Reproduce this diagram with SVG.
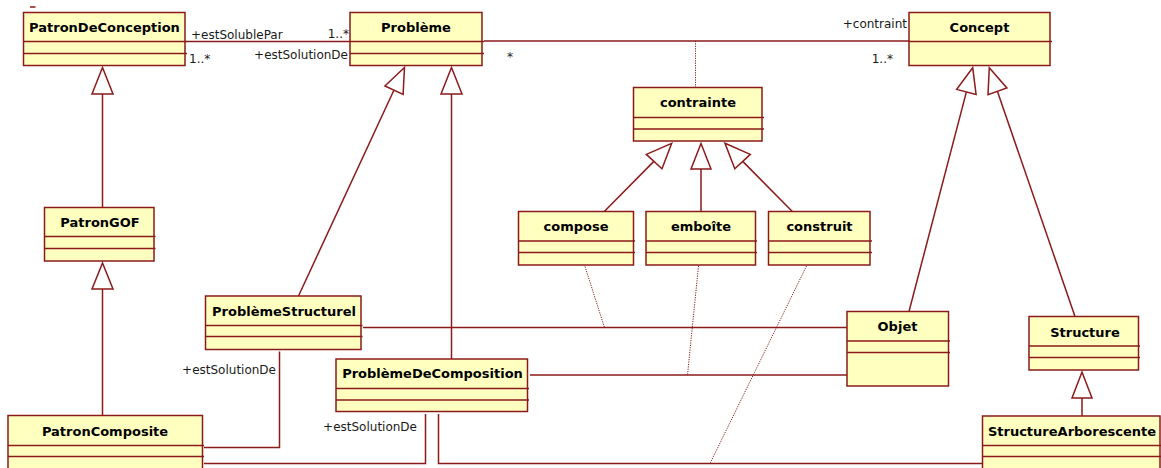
<svg xmlns="http://www.w3.org/2000/svg" width="1161" height="468" viewBox="0 0 1161 468">
<defs>
<style>
.box{fill:#FFFFC0;stroke:#8B1A1A;stroke-width:1.5}
.sep{stroke:#8B1A1A;stroke-width:1.5;fill:none}
.ttl{font-family:"DejaVu Sans",Verdana,sans-serif;font-weight:bold;font-size:13px;fill:#000;text-anchor:middle}
.lbl{font-family:"DejaVu Sans",Verdana,sans-serif;font-size:12px;fill:#1a1a1a}
.ln{stroke:#8B1A1A;stroke-width:1.5;fill:none}
.dot{stroke:#8B1A1A;stroke-width:1;fill:none;stroke-dasharray:1.2 1.2}
.tri{fill:#fff;stroke:#8B1A1A;stroke-width:1.5}
</style>
</defs>
<rect width="1161" height="468" fill="#fff"/>
<line x1="30" y1="7" x2="35.5" y2="7" class="sep"/>

<g id="connectors">
  <!-- associations -->
  <path class="ln" d="M186.5,41.5 H350"/>
  <path class="ln" d="M484,41 H909"/>
  <path class="ln" d="M363,327.5 H847"/>
  <path class="ln" d="M530,375 H847"/>
  <path class="ln" d="M204,447.5 H279.5 V351.5"/>
  <path class="ln" d="M204,463.5 H425.5 V414"/>
  <path class="ln" d="M438.5,414 V463.5 H982.5"/>
  <!-- association classes -->
  <path class="dot" d="M695.5,41 V87.5"/>
  <path class="dot" d="M585,266.5 L604.5,327.5"/>
  <path class="dot" d="M698.5,266 L687.5,375"/>
  <path class="dot" d="M806.5,266 L710,463.5"/>
  <!-- generalizations -->
  <path class="ln" d="M102.5,94 V207.5"/>
  <polygon class="tri" points="102.5,67.5 92,94 113,94"/>
  <path class="ln" d="M102.5,289 V415.5"/>
  <polygon class="tri" points="102.5,263 92,289 113,289"/>
  <path class="ln" d="M394,90 L298.5,296"/>
  <polygon class="tri" points="404.5,67.5 384.9,86 403.1,94.4"/>
  <path class="ln" d="M451.5,94 V359"/>
  <polygon class="tri" points="451.5,67.5 441,94 462,94"/>
  <path class="ln" d="M966.4,91.9 L909,311.5"/>
  <polygon class="tri" points="972.7,67.7 976.1,94.4 956.7,89.4"/>
  <path class="ln" d="M997.4,91.3 L1075,316.5"/>
  <polygon class="tri" points="989.3,67.7 1006.9,88 988,94.6"/>
  <path class="ln" d="M654.1,161.1 L604.3,211.5"/>
  <polygon class="tri" points="671.7,143.3 662,168.8 646.3,154.4"/>
  <path class="ln" d="M701,169 V211.5"/>
  <polygon class="tri" points="701,143.5 691,169 711,169"/>
  <path class="ln" d="M742.5,161.1 L792.3,211.5"/>
  <polygon class="tri" points="725,143.3 750.3,154.4 734.8,168.8"/>
  <path class="ln" d="M1082,398 V416"/>
  <polygon class="tri" points="1082,372 1072,398 1092,398"/>
  <!-- labels -->
  <text class="lbl" x="191" y="39">+estSolublePar</text>
  <text class="lbl" x="349" y="38" text-anchor="end">1..*</text>
  <text class="lbl" x="189" y="63">1..*</text>
  <text class="lbl" x="348" y="59" text-anchor="end">+estSolutionDe</text>
  <text class="lbl" x="507" y="61">*</text>
  <text class="lbl" x="907" y="28" text-anchor="end">+contraint</text>
  <text class="lbl" x="893" y="63" text-anchor="end">1..*</text>
  <text class="lbl" x="276" y="374" text-anchor="end">+estSolutionDe</text>
  <text class="lbl" x="417" y="430.5" text-anchor="end">+estSolutionDe</text>
</g>

<g id="PatronDeConception">
  <rect class="box" x="23.5" y="12.5" width="161.5" height="53"/>
  <path class="sep" d="M23.5,41.5 H187 M23.5,53.5 H187"/>
  <text class="ttl" x="104.5" y="31.5">PatronDeConception</text>
</g>
<g id="Probleme">
  <rect class="box" x="350" y="12.5" width="132" height="53"/>
  <path class="sep" d="M350,41.5 H484 M350,53.5 H484"/>
  <text class="ttl" x="416" y="31.5">Problème</text>
</g>
<g id="Concept">
  <rect class="box" x="909" y="12.5" width="141" height="53"/>
  <path class="sep" d="M909,41.5 H1052"/>
  <text class="ttl" x="979.5" y="31.5">Concept</text>
</g>
<g id="contrainte">
  <rect class="box" x="633.5" y="87.5" width="128.5" height="53.5"/>
  <path class="sep" d="M633.5,117.5 H764 M633.5,129 H764"/>
  <text class="ttl" x="698" y="107">contrainte</text>
</g>
<g id="compose">
  <rect class="box" x="518.5" y="211.5" width="115" height="53.5"/>
  <path class="sep" d="M518.5,241 H635 M518.5,252.5 H635"/>
  <text class="ttl" x="576" y="231">compose</text>
</g>
<g id="emboite">
  <rect class="box" x="646" y="211.5" width="109.5" height="53.5"/>
  <path class="sep" d="M646,241 H757 M646,252.5 H757"/>
  <text class="ttl" x="701" y="231">emboîte</text>
</g>
<g id="construit">
  <rect class="box" x="768.5" y="211.5" width="101.5" height="53.5"/>
  <path class="sep" d="M768.5,241 H872 M768.5,252.5 H872"/>
  <text class="ttl" x="819.5" y="231">construit</text>
</g>
<g id="PatronGOF">
  <rect class="box" x="44.5" y="207.5" width="109.5" height="53.5"/>
  <path class="sep" d="M44.5,236.5 H155.5 M44.5,248.5 H155.5"/>
  <text class="ttl" x="100" y="227">PatronGOF</text>
</g>
<g id="ProblemeStructurel">
  <rect class="box" x="205.5" y="296" width="155.5" height="53.5"/>
  <path class="sep" d="M205.5,325.5 H362.5 M205.5,336.5 H362.5"/>
  <text class="ttl" x="284" y="316">ProblèmeStructurel</text>
</g>
<g id="ProblemeDeComposition">
  <rect class="box" x="336" y="359" width="191.5" height="52.5"/>
  <path class="sep" d="M336,388.5 H529 M336,400 H529"/>
  <text class="ttl" x="432.5" y="378">ProblèmeDeComposition</text>
</g>
<g id="Objet">
  <rect class="box" x="847" y="311.5" width="101.5" height="74.5"/>
  <path class="sep" d="M847,341 H950 M847,352.5 H950"/>
  <text class="ttl" x="897.5" y="331">Objet</text>
</g>
<g id="Structure">
  <rect class="box" x="1029" y="316.5" width="109.5" height="53.5"/>
  <path class="sep" d="M1029,346 H1140 M1029,357.5 H1140"/>
  <text class="ttl" x="1085" y="336.5">Structure</text>
</g>
<g id="PatronComposite">
  <rect class="box" x="8" y="415.5" width="194.5" height="60"/>
  <path class="sep" d="M8,445.5 H204 M8,456.5 H204"/>
  <text class="ttl" x="105" y="435.5">PatronComposite</text>
</g>
<g id="StructureArborescente">
  <rect class="box" x="982.5" y="416" width="177.5" height="60"/>
  <path class="sep" d="M982.5,445.5 H1161 M982.5,456.5 H1161"/>
  <text class="ttl" x="1072" y="435.5">StructureArborescente</text>
</g>
</svg>
